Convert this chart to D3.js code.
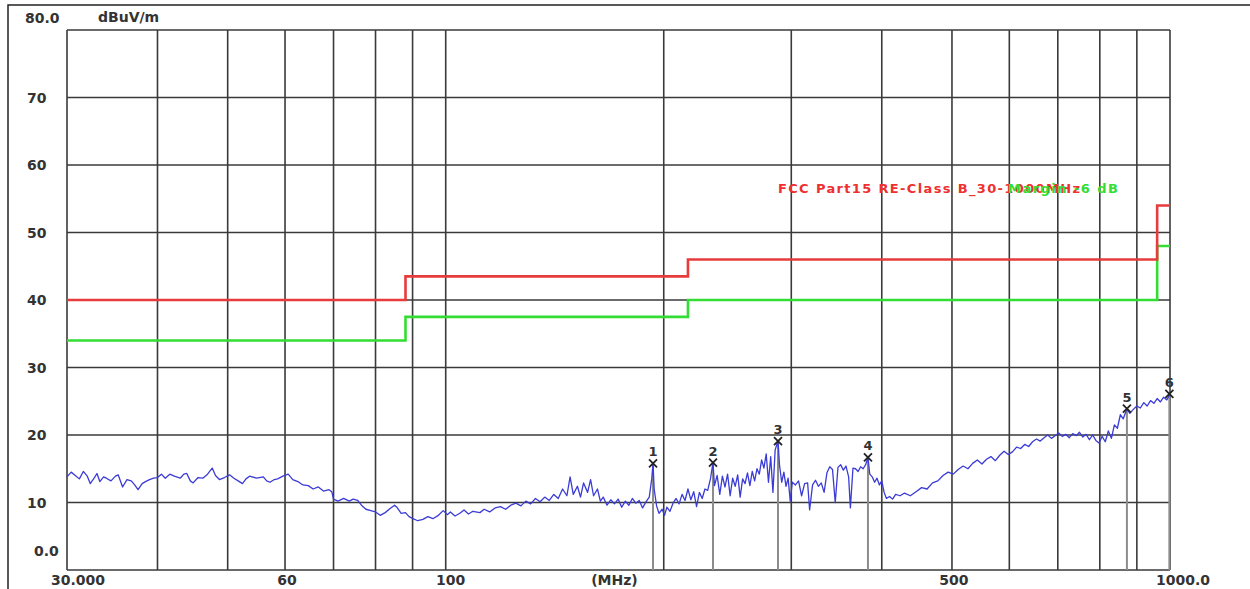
<!DOCTYPE html>
<html>
<head>
<meta charset="utf-8">
<script src="https://cdn.jsdelivr.net/npm/d3@7"></script>
<style>
  body { margin: 0; background: #fff; }
  text { font-family: "DejaVu Sans", Arial, sans-serif; }
</style>
</head>
<body>
<div id="chart"></div>
<script>
let w = 1250; let h = 589;

// y axis ticks (dBuV/m)
let yTicks = [80, 70, 60, 50, 40, 30, 20, 10, 0];
let yTickLabels = ["80.0", "70", "60", "50", "40", "30", "20", "10", "0.0"];

// x axis gridlines + labels (MHz, log)
let xGrid = [30, 40, 50, 60, 70, 80, 90, 100, 200, 300, 400, 500, 600, 700, 800, 900, 1000];
let xTicks = [30, 60, 100, 500, 1000];
let xTickLabels = ["30.000", "60", "100", "500", "1000.0"];

// FCC class B limit and -6 dB margin (step lines)
let limitFreq = [30, 88, 88, 216, 216, 960, 960, 1000];
let limitLevel = [40, 40, 43.5, 43.5, 46, 46, 54, 54];
let marginLevel = [34, 34, 37.5, 37.5, 40, 40, 48, 48];

// marker peaks
let markerNo = ["1", "2", "3", "4", "5", "6"];
let markerFreq = [193.3, 233.9, 287.6, 382.8, 872, 998];
let markerLevel = [15.8, 15.9, 19.1, 16.7, 23.9, 26.1];

let trace = [
  [30.0,13.8],[30.4,14.5],[30.8,14.0],[31.2,13.5],[31.6,14.6],[32.0,13.9],[32.3,12.8],[32.7,13.6],[33.0,14.3],[33.3,13.1],
  [33.7,13.8],[34.0,13.6],[34.5,13.2],[35.0,13.9],[35.3,14.1],[35.8,12.3],[36.3,13.4],[36.8,13.2],[37.2,12.6],[37.6,11.9],
  [38.1,12.8],[38.5,13.1],[39.0,13.4],[39.5,13.6],[40.0,13.7],[40.5,14.2],[41.0,13.6],[41.6,14.2],[42.2,13.9],[43.0,13.6],
  [43.5,14.2],[43.9,14.3],[44.4,13.2],[44.8,12.9],[45.5,13.7],[46.2,13.6],[46.9,14.2],[47.6,15.1],[48.1,14.0],[48.7,13.4],
  [49.5,13.7],[50.3,14.1],[51.0,13.6],[51.7,13.2],[52.4,12.8],[53.0,13.5],[53.6,13.9],[54.8,13.6],[56.0,13.8],[56.6,13.2],
  [57.2,13.0],[58.0,13.4],[58.6,13.5],[59.6,13.9],[60.6,14.2],[61.5,13.4],[62.5,13.1],[63.5,12.6],[64.6,12.5],[65.6,12.0],
  [66.7,12.3],[67.8,11.7],[69.0,11.9],[69.6,11.6],[70.0,10.5],[71.0,10.2],[72.3,10.6],[73.6,10.2],[74.5,10.5],[75.6,10.3],
  [76.5,9.6],[77.6,9.0],[78.8,8.8],[80.0,8.6],[81.2,8.1],[82.5,8.5],[83.8,9.1],[85.0,9.6],[85.6,9.3],[86.8,8.4],
  [88.0,8.5],[89.0,7.9],[90.1,7.6],[91.5,7.3],[93.0,7.5],[94.5,7.9],[96.0,7.6],[97.7,8.1],[99.2,8.8],[100.5,8.2],
  [101.5,8.6],[103,8.0],[104.6,8.4],[106,8.9],[107.5,8.3],[109,8.7],[111.5,8.5],[113,9.0],[115,8.6],[117,9.2],
  [119,9.4],[121,9.0],[123,9.6],[125,9.9],[127,9.5],[129,10.2],[131,9.8],[133,10.6],[135,10.1],[137,10.8],
  [139,10.3],[141,11.2],[143,10.6],[145,12.0],[147,11.0],[148.5,13.8],[150,11.2],[152,12.4],[153.5,10.8],[155,12.9],
  [157,11.5],[158.5,13.4],[160,11.0],[162,12.0],[163.5,10.2],[165,10.8],[167,9.6],[169,10.4],[171,9.8],[173,10.5],
  [175,9.3],[177,10.2],[179,9.6],[181,10.6],[183,9.9],[185,10.3],[187,9.2],[189,10.1],[191,10.8],[192.5,13.5],
  [193.3,15.8],[194,12.0],[195.5,9.5],[197,8.4],[199,9.0],[200.5,8.1],[202,9.3],[204,8.7],[206,9.9],[208,10.6],
  [210,9.8],[212,11.2],[214,10.3],[216,12.0],[218,10.4],[220,11.6],[222,9.4],[224,11.5],[226,10.6],[228,12.0],
  [230,11.8],[232,13.5],[233.9,15.9],[235,12.5],[237,14.0],[239,11.2],[241,13.9],[243,12.3],[245,14.2],[247,11.0],
  [249,13.6],[251,12.4],[253,14.1],[255,10.8],[257,13.5],[259,12.8],[261,14.4],[263,12.5],[265,14.6],[267,13.2],
  [269,15.0],[271,14.2],[273,16.3],[275,15.1],[277,17.2],[279,13.0],[281,16.8],[283,11.5],[285,17.8],[287.6,19.1],
  [289,15.5],[291,13.0],[293,14.5],[295,12.4],[297,13.6],[299,10.2],[301,13.0],[304,12.6],[307,13.2],[310,11.0],
  [313,12.8],[316,12.9],[318,8.9],[321,12.6],[324,13.3],[327,12.4],[330,12.9],[333,11.5],[336,14.4],[339,15.3],
  [342,14.9],[345,10.0],[348,15.2],[351,15.6],[354,14.8],[357,15.4],[360,13.8],[362,9.2],[365,15.1],[368,15.0],
  [371,14.6],[374,15.3],[377,15.0],[380,15.6],[382.8,16.7],[385,14.2],[388,13.8],[391,13.0],[394,13.6],[397,12.6],
  [400,13.2],[403,11.5],[406,10.6],[410,10.9],[414,10.5],[418,11.2],[424,11.0],[430,11.4],[438,11.0],[446,11.6],
  [454,12.2],[462,12.0],[470,12.9],[478,13.2],[486,14.0],[494,14.5],[502,14.2],[510,14.9],[518,15.4],[526,15.0],
  [534,15.8],[542,16.3],[550,15.7],[558,16.4],[566,16.8],[574,16.2],[582,17.0],[590,17.6],[598,17.1],[606,17.5],
  [614,18.2],[622,18.0],[630,18.6],[638,18.3],[646,19.0],[654,19.4],[662,19.1],[670,19.6],[678,20.0],[686,19.5],
  [694,19.9],[702,20.3],[710,19.8],[718,20.1],[726,19.6],[734,20.2],[742,19.9],[750,20.4],[758,19.7],[766,20.1],
  [774,19.3],[782,20.0],[790,19.2],[798,18.8],[806,19.8],[814,19.0],[822,20.6],[830,19.5],[838,21.5],[846,21.0],
  [854,23.0],[862,22.4],[872,23.9],[880,23.2],[890,23.8],[900,24.3],[910,24.0],[920,24.8],[930,24.3],[940,25.1],
  [950,24.7],[960,25.4],[970,24.9],[980,25.6],[990,25.2],[1000,26.1]
];

//svg canvas
let graph = d3.select("#chart").append("svg")
  .attr("width", w).attr("height", h);

graph.append("rect").attr("width", w).attr("height", h).attr("fill", "#fff");

let x = d3.scaleLog().domain([30, 1000]).range([67, 1170]);
let y = d3.scaleLinear().domain([0, 80]).range([570, 30]);

//outer frame
graph.append("path")
  .attr("d", "M8," + h + "V5H" + w)
  .attr("fill", "none").attr("stroke", "#222").attr("stroke-width", 1.5);

//grid
graph.append("g")
  .selectAll("line").data(yTicks).enter().append("line")
  .attr("x1", x(30)).attr("x2", x(1000))
  .attr("y1", d => y(d)).attr("y2", d => y(d))
  .attr("stroke", "#3a3a3a").attr("stroke-width", 1.6);

graph.append("g")
  .selectAll("line").data(xGrid).enter().append("line")
  .attr("x1", d => x(d)).attr("x2", d => x(d))
  .attr("y1", y(80)).attr("y2", y(0))
  .attr("stroke", "#3a3a3a").attr("stroke-width", 1.6);

//marker drop lines
graph.append("g")
  .selectAll("line").data(markerFreq).enter().append("line")
  .attr("x1", d => x(d)).attr("x2", d => x(d))
  .attr("y1", (d, i) => y(markerLevel[i])).attr("y2", y(0))
  .attr("stroke", "#8c8c8c").attr("stroke-width", 2);

//limit lines
let limLine = d3.line().x((d, i) => x(limitFreq[i])).y(d => y(d));

graph.append("path")
  .attr("d", limLine(marginLevel))
  .attr("fill", "none").attr("stroke", "#33dd33").attr("stroke-width", 2.6);

graph.append("path")
  .attr("d", limLine(limitLevel))
  .attr("fill", "none").attr("stroke", "#e83b3b").attr("stroke-width", 2.6);

//trace
let traceLine = d3.line().x(d => x(d[0])).y(d => y(d[1]));
graph.append("path")
  .attr("d", traceLine(trace))
  .attr("fill", "none").attr("stroke", "#3b3bd6").attr("stroke-width", 1.3)
  .attr("stroke-linejoin", "round");

//markers
let mk = graph.append("g").selectAll("g").data(markerFreq).enter().append("g")
  .attr("transform", (d, i) => "translate(" + x(d) + "," + y(markerLevel[i]) + ")");

mk.append("path")
  .attr("d", "M-4,-4L4,4M-4,4L4,-4")
  .attr("stroke", "#222").attr("stroke-width", 1.8);

mk.append("text")
  .text((d, i) => markerNo[i])
  .attr("y", -7)
  .attr("text-anchor", "middle")
  .attr("font-size", "13px").attr("font-weight", "bold")
  .attr("fill", "#333");

//legend (the two labels overlap in the original too)
graph.append("text")
  .attr("x", 778).attr("y", 193)
  .attr("font-size", "13px").attr("font-weight", "bold")
  .attr("fill", "#ee3030")
  .attr("textLength", 302)
  .text("FCC Part15 RE-Class B_30-1000MHz");

graph.append("text")
  .attr("x", 1008).attr("y", 193)
  .attr("font-size", "13px").attr("font-weight", "bold")
  .attr("fill", "#33dd33")
  .attr("textLength", 110)
  .text("Margin -6 dB");

//y labels
let yShift = {"80.0": -12, "0.0": -19};
graph.append("g")
  .selectAll("text").data(yTicks).enter().append("text")
  .text((d, i) => yTickLabels[i])
  .attr("x", (d, i) => yTickLabels[i] == "80.0" ? 25 : (yTickLabels[i] == "0.0" ? 34 : 27))
  .attr("y", (d, i) => y(d) + (yShift[yTickLabels[i]] || 0))
  .attr("dy", "0.36em")
  .attr("font-size", "14px").attr("font-weight", "bold")
  .attr("fill", "#333");

graph.append("text")
  .attr("x", 98).attr("y", 22)
  .attr("font-size", "14px").attr("font-weight", "bold")
  .attr("fill", "#333")
  .text("dBuV/m");

//x labels
let xShift = {"30.000": 11, "1000.0": 13, "60": 2, "100": 5, "500": 2};
graph.append("g")
  .selectAll("text").data(xTicks).enter().append("text")
  .text((d, i) => xTickLabels[i])
  .attr("x", (d, i) => x(d) + xShift[xTickLabels[i]])
  .attr("y", 585)
  .attr("text-anchor", "middle")
  .attr("font-size", "14px").attr("font-weight", "bold")
  .attr("fill", "#333");

graph.append("text")
  .attr("x", x(171)).attr("y", 585)
  .attr("text-anchor", "middle")
  .attr("font-size", "14px").attr("font-weight", "bold")
  .attr("fill", "#333")
  .text("(MHz)");
</script>
</body>
</html>
